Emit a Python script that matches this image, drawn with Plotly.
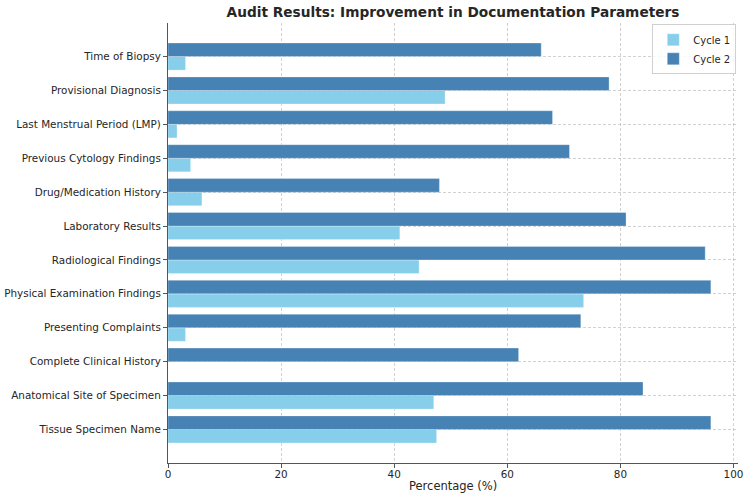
import plotly.graph_objects as go

categories = [
    "Tissue Specimen Name",
    "Anatomical Site of Specimen",
    "Complete Clinical History",
    "Presenting Complaints",
    "Physical Examination Findings",
    "Radiological Findings",
    "Laboratory Results",
    "Drug/Medication History",
    "Previous Cytology Findings",
    "Last Menstrual Period (LMP)",
    "Provisional Diagnosis",
    "Time of Biopsy",
]
cycle1 = [47.5, 47, 0, 3.1, 73.5, 44.4, 41, 6, 4, 1.6, 49, 3.1]
cycle2 = [96, 84, 62, 73, 96, 95, 81, 48, 71, 68, 78, 66]
x_ticks = [0, 20, 40, 60, 80, 100]

idx = list(range(len(categories)))
bar_h = 0.4

fig = go.Figure()
fig.add_trace(go.Bar(
    y=[i - bar_h / 2 for i in idx], x=cycle1, orientation="h", width=bar_h,
    name="Cycle 1", marker=dict(color="#87CEEB", line=dict(color="rgba(255,255,255,0.6)", width=0.5)),
))
fig.add_trace(go.Bar(
    y=[i + bar_h / 2 for i in idx], x=cycle2, orientation="h", width=bar_h,
    name="Cycle 2", marker=dict(color="#4682B4", line=dict(color="rgba(255,255,255,0.6)", width=0.5)),
))

grid_col = "rgba(190,190,190,0.7)"
fig.update_layout(
    width=750, height=498,
    margin=dict(l=168, r=12, t=23, b=35),
    paper_bgcolor="white", plot_bgcolor="white",
    barmode="overlay",
    font=dict(family="DejaVu Sans", size=10.4, color="#262626"),
    title=dict(text="<b>Audit Results: Improvement in Documentation Parameters</b>",
               x=(168 + 738) / 2 / 750, xanchor="center", y=0.975, yanchor="middle",
               font=dict(size=13.7, color="#262626")),
    legend=dict(x=0.997, y=0.997, xanchor="right", yanchor="top", traceorder="normal",
                bgcolor="rgba(255,255,255,0.85)", bordercolor="#d0d0d0", borderwidth=1,
                font=dict(size=10), tracegroupgap=0),
    xaxis=dict(range=[0, 100.8], tickvals=x_ticks, showgrid=True, automargin=False,
               gridcolor=grid_col, griddash="3px,2px", gridwidth=0.7,
               showline=True, linecolor="#555555", linewidth=1.2,
               ticks="outside", ticklen=4, tickcolor="#555555", zeroline=False,
               ticklabelstandoff=-3),
    yaxis=dict(range=[-0.99, 11.99], tickvals=idx, ticktext=categories, showgrid=True,
               automargin=False,
               gridcolor=grid_col, griddash="3px,2px", gridwidth=0.7,
               showline=True, linecolor="#555555", linewidth=1.2,
               ticks="outside", ticklen=4, tickcolor="#555555", zeroline=False),
    annotations=[dict(text="Percentage (%)", xref="paper", yref="paper",
                      x=0.5, y=-(486 - 463) / 440, xanchor="center", yanchor="middle",
                      showarrow=False, font=dict(size=11.5, color="#262626"))],
)

fig.write_html("out.html")
